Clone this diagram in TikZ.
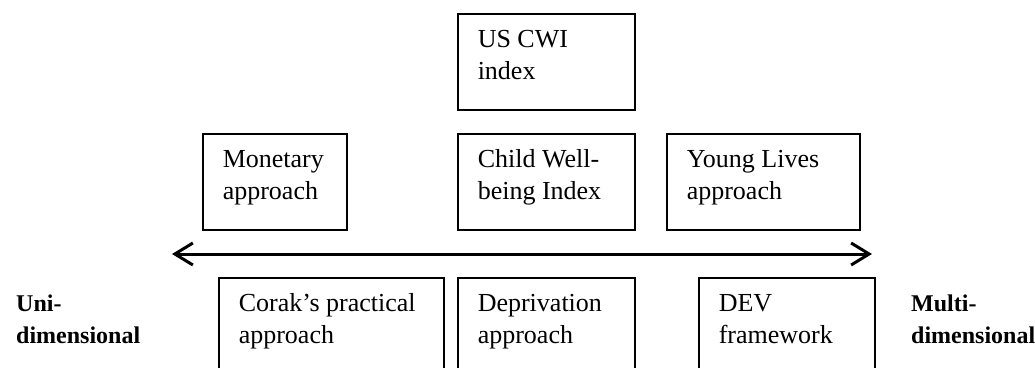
\documentclass[tikz,border=0pt]{standalone}
\usepackage{fontspec}
\setmainfont{Liberation Serif}
\usetikzlibrary{arrows.meta}
\newcommand\boxtxt[3]{\parbox[t][#2][t]{#1}{\raggedright\rule{0pt}{34pt}#3}}
\newcommand\sidetxt[1]{\parbox[t]{130pt}{\raggedright\rule{0pt}{20pt}#1}}
\tikzset{
  bx/.style={draw, line width=1.5pt, anchor=north west, inner xsep=20pt, inner ysep=0pt,
             font=\fontsize{26}{31.5}\selectfont},
  side/.style={anchor=north west, inner sep=0pt, font=\fontsize{24}{32}\selectfont\bfseries},
  axis/.style={line width=3pt, {Straight Barb[length=18pt,width=22pt]}-{Straight Barb[length=18pt,width=22pt]}}
}
\begin{document}
\begin{tikzpicture}[x=1pt,y=-1pt]
\useasboundingbox (0,0) rectangle (1035,367);
\clip (0,0) rectangle (1035,367);
% top row
\node[bx] (uscwi) at (457,13) {\boxtxt{137pt}{96pt}{US CWI\\index}};
\node[bx] (mon) at (202,133) {\boxtxt{104pt}{96pt}{Monetary\\approach}};
\node[bx] (child) at (457,133) {\boxtxt{137pt}{96pt}{Child Well-\\being Index}};
\node[bx] (young) at (666,133) {\boxtxt{153pt}{96pt}{Young Lives\\approach}};
% axis
\coordinate (aL) at (172,254);
\coordinate (aR) at (872,254);
\draw[axis] (aL) -- (aR);
% bottom row
\node[bx] (corak) at (218,277) {\boxtxt{185pt}{100pt}{Corak’s practical\\approach}};
\node[bx] (depr) at (457,277) {\boxtxt{137pt}{100pt}{Deprivation\\approach}};
\node[bx] (dev) at (698,277) {\boxtxt{136pt}{100pt}{DEV\\framework}};
% side labels
\node[side] (uni) at (16,291) {\sidetxt{Uni-\\dimensional}};
\node[side] (multi) at (911,291) {\sidetxt{Multi-\\dimensional}};
\end{tikzpicture}
\end{document}
